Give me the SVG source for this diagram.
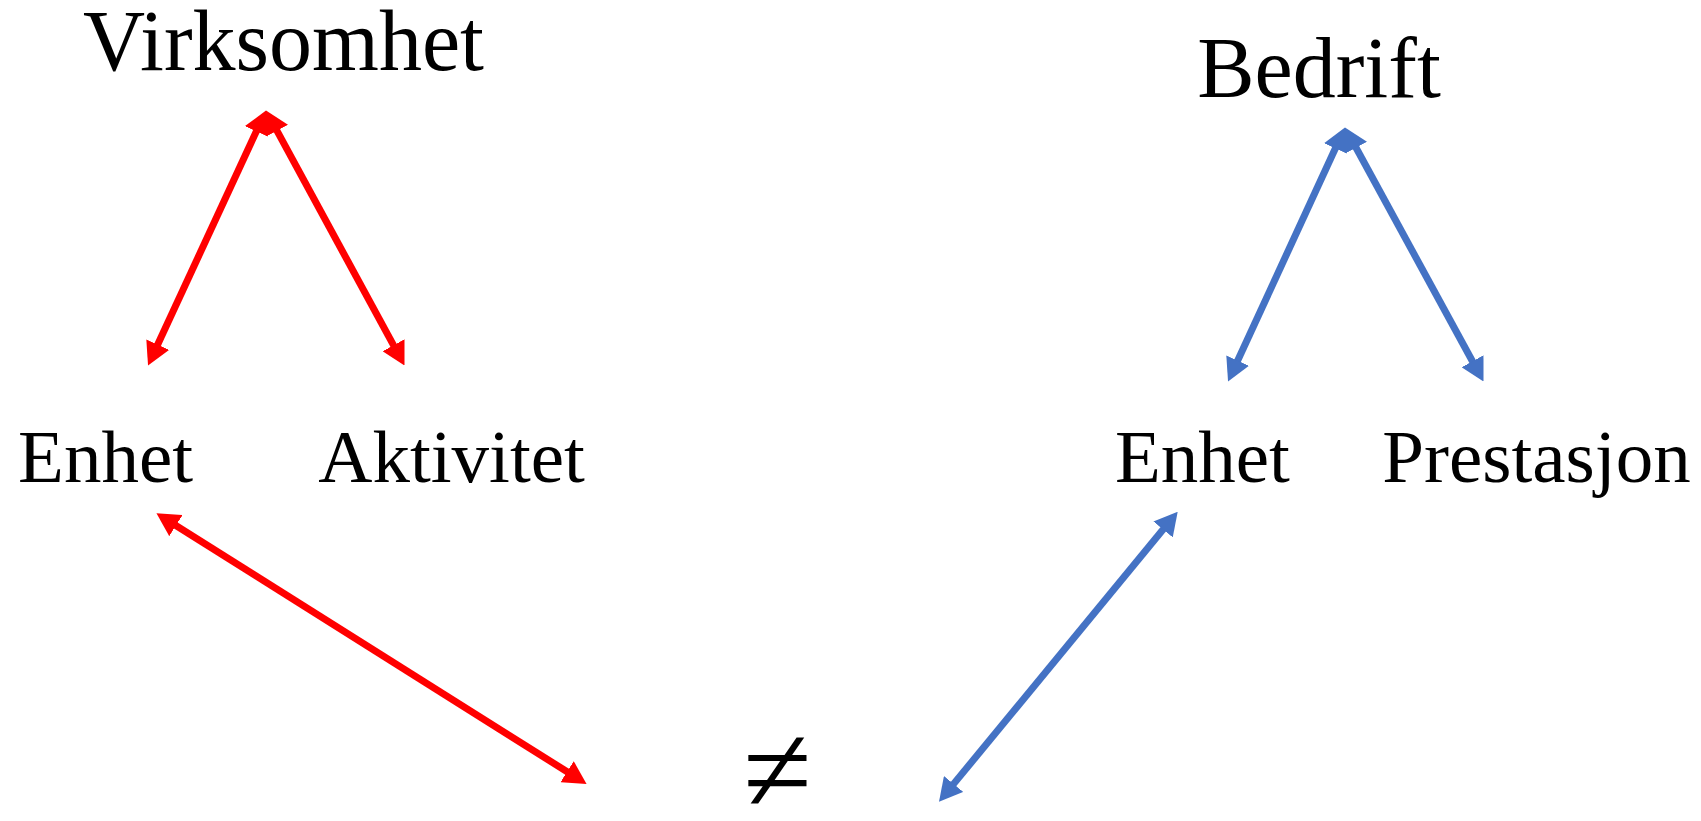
<svg xmlns="http://www.w3.org/2000/svg" width="1701" height="821" viewBox="0 0 1701 821">
  <style>
    .lbl { font-family: "Liberation Serif", "Times New Roman", serif; fill: #000; text-anchor: middle; }
    .big { font-size: 86px; }
    .mid { font-size: 75px; }
    .red { stroke: #FF0000; stroke-width: 7; fill: none; }
    .blue { stroke: #4472C4; stroke-width: 7; fill: none; }
  </style>
  <defs>
    <marker id="ahRed" viewBox="0 0 23 25" refX="9" refY="12.5" markerWidth="23" markerHeight="25" markerUnits="userSpaceOnUse" orient="auto-start-reverse">
      <path d="M0,0 L23,12.5 L0,25 z" fill="#FF0000"/>
    </marker>
    <marker id="ahBlue" viewBox="0 0 23 25" refX="9" refY="12.5" markerWidth="23" markerHeight="25" markerUnits="userSpaceOnUse" orient="auto-start-reverse">
      <path d="M0,0 L23,12.5 L0,25 z" fill="#4472C4"/>
    </marker>
  </defs>
  <rect width="1701" height="821" fill="#fff"/>

  <g id="virksomhet"><text class="lbl big" x="283.5" y="70">Virksomhet</text></g>
  <g id="bedrift"><text class="lbl big" x="1319" y="97">Bedrift</text></g>
  <g id="enhet-left"><text class="lbl mid" x="105.6" y="482">Enhet</text></g>
  <g id="aktivitet"><text class="lbl mid" x="451.6" y="482">Aktivitet</text></g>
  <g id="enhet-right"><text class="lbl mid" x="1202.5" y="482">Enhet</text></g>
  <g id="prestasjon"><text class="lbl mid" x="1536.5" y="482">Prestasjon</text></g>
  <g id="ulik"><text class="lbl" style="font-size:125px" x="777.5" y="812">≠</text></g>

  <g id="connectors">
    <line class="red" x1="260.1" y1="123.2" x2="153.9" y2="352.8" marker-start="url(#ahRed)" marker-end="url(#ahRed)"/>
    <line class="red" x1="272.7" y1="122.8" x2="397.8" y2="353.2" marker-start="url(#ahRed)" marker-end="url(#ahRed)"/>
    <line class="blue" x1="1339.1" y1="140.2" x2="1233.9" y2="368.8" marker-start="url(#ahBlue)" marker-end="url(#ahBlue)"/>
    <line class="blue" x1="1351.7" y1="139.8" x2="1476.8" y2="369.2" marker-start="url(#ahBlue)" marker-end="url(#ahBlue)"/>
    <line class="red" x1="168.3" y1="520.8" x2="574.7" y2="776.5" marker-start="url(#ahRed)" marker-end="url(#ahRed)"/>
    <line class="blue" x1="1168.8" y1="522.5" x2="947.9" y2="790.9" marker-start="url(#ahBlue)" marker-end="url(#ahBlue)"/>
  </g>
</svg>
